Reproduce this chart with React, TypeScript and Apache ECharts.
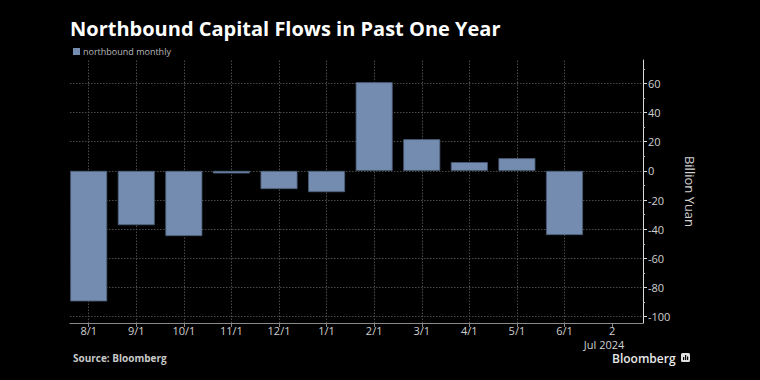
import React, { useEffect, useRef } from "react";
import * as echarts from "echarts";

const categories = ["8/1", "9/1", "10/1", "11/1", "12/1", "1/1", "2/1", "3/1", "4/1", "5/1", "6/1", "2"];
const yearLabel = "Jul 2024";
const flows: (number | null)[] = [-89.5, -37.2, -44.7, -1.8, -12.5, -14.6, 60.8, 21.7, 6.0, 8.7, -44.0, null];
const yTicks = [-100, -80, -60, -40, -20, 0, 20, 40, 60];
const yMinorTicks = [-90, -70, -50, -30, -10, 10, 30, 50, 70];
const gridXs = [0, 1, 2, 3, 4, 5, 6, 7, 8, 9, 10];

const FONT = "Open Sans";

export default function App() {
  const ref = useRef<HTMLDivElement>(null);
  useEffect(() => {
    if (!ref.current) return;
    const chart = echarts.init(ref.current, undefined, { renderer: "svg" });
    const idx = categories.map((_, i) => i);
    const last = categories.length - 1;
    const barData = flows
      .map((v, i) => (v === null ? null : [i, v]))
      .filter((d) => d !== null);
    const option: any = {
      animation: false,
      backgroundColor: "#000000",
      title: {
        text: "Northbound Capital Flows in Past One Year",
        left: 70,
        top: 18,
        padding: 0,
        textStyle: { color: "#ffffff", fontSize: 20, fontWeight: "bold", fontFamily: FONT },
      },
      legend: {
        left: 73,
        top: 47,
        padding: 0,
        itemWidth: 7,
        itemHeight: 7,
        itemGap: 4,
        icon: "rect",
        itemStyle: { borderWidth: 0 },
        textStyle: { color: "#b8b8b8", fontSize: 9, fontFamily: FONT, padding: [0, 0, 0, -2] },
        data: ["northbound monthly"],
      },
      grid: { left: 70, top: 60, width: 573, height: 263, containLabel: false },
      xAxis: {
        type: "value",
        min: -0.393,
        max: 11.65,
        axisLine: { show: true, onZero: false, lineStyle: { color: "#8a8a8a", width: 1 } },
        axisTick: { show: true, length: 4, customValues: idx, lineStyle: { color: "#8a8a8a" } },
        axisLabel: {
          customValues: idx,
          margin: 1,
          color: "#d0d0d0",
          fontSize: 11,
          fontFamily: FONT,
          lineHeight: 13.5,
          formatter: (v: number) => {
            const i = Math.round(v);
            if (i === last) return `{a|${categories[i]}}\n{b|${yearLabel}}`;
            return categories[i] ?? "";
          },
          rich: {
            a: { fontSize: 11, fontFamily: FONT, color: "#d0d0d0", lineHeight: 13.5 },
            b: { fontSize: 11, fontFamily: FONT, color: "#d0d0d0", lineHeight: 13.5, padding: [0, 16, 0, 0] },
          },
        },
        splitLine: { show: false },
      },
      yAxis: [
        {
          type: "value",
          position: "right",
          min: -104.3,
          max: 76,
          name: "Billion Yuan",
          nameLocation: "middle",
          nameRotate: -90,
          nameGap: 40,
          nameTextStyle: { color: "#d0d0d0", fontSize: 13, fontFamily: FONT },
          axisLine: { show: true, onZero: false, lineStyle: { color: "#d8d8d8", width: 1 } },
          axisTick: { show: true, inside: false, length: 4, customValues: yTicks, lineStyle: { color: "#d8d8d8" } },
          axisLabel: {
            customValues: yTicks,
            margin: 5,
            color: "#d0d0d0",
            fontSize: 11,
            fontFamily: FONT,
          },
          splitLine: { show: true, lineStyle: { color: "#4a4a4a", type: [1.5, 1.5], width: 1 } },
        },
        {
          type: "value",
          position: "right",
          min: -104.3,
          max: 76,
          axisLine: { show: false, onZero: false },
          axisTick: { show: true, inside: false, length: 2, customValues: yMinorTicks, lineStyle: { color: "#bbbbbb" } },
          axisLabel: { show: false },
          splitLine: { show: false },
        },
      ],
      series: [
        {
          name: "northbound monthly",
          type: "bar",
          xAxisIndex: 0,
          yAxisIndex: 0,
          barWidth: 37,
          data: barData,
          itemStyle: { color: "#748caf", borderColor: "#4a5a75", borderWidth: 0.8 },
          markLine: {
            silent: true,
            symbol: "none",
            label: { show: false },
            lineStyle: { color: "#4a4a4a", type: [1.5, 1.5], width: 1 },
            data: gridXs.map((x) => ({ xAxis: x })),
            z: 0,
          },
          z: 3,
        },
      ],
      graphic: [
        {
          type: "text",
          left: 73,
          top: 353,
          style: { text: "Source: Bloomberg", fill: "#c8c8c8", font: `bold 10px "${FONT}"` },
        },
        {
          type: "text",
          left: 612,
          top: 352,
          style: { text: "Bloomberg", fill: "#e8e8e8", font: `600 12px "${FONT}"` },
        },
        {
          type: "group",
          left: 681,
          top: 353,
          children: [
            { type: "rect", shape: { x: 0, y: 0, width: 9, height: 9, r: 1.5 }, style: { fill: "#e0e0e0" } },
            { type: "rect", shape: { x: 2, y: 4, width: 1.2, height: 3 }, style: { fill: "#000" } },
            { type: "rect", shape: { x: 4, y: 2, width: 1.2, height: 5 }, style: { fill: "#000" } },
            { type: "rect", shape: { x: 6, y: 3.5, width: 1.2, height: 3.5 }, style: { fill: "#000" } },
          ],
        },
      ],
    };
    chart.setOption(option);
    return () => chart.dispose();
  }, []);
  return (
    <div
      ref={ref}
      style={{ position: "fixed", left: 0, top: 0, width: 760, height: 380, background: "#000" }}
    />
  );
}
